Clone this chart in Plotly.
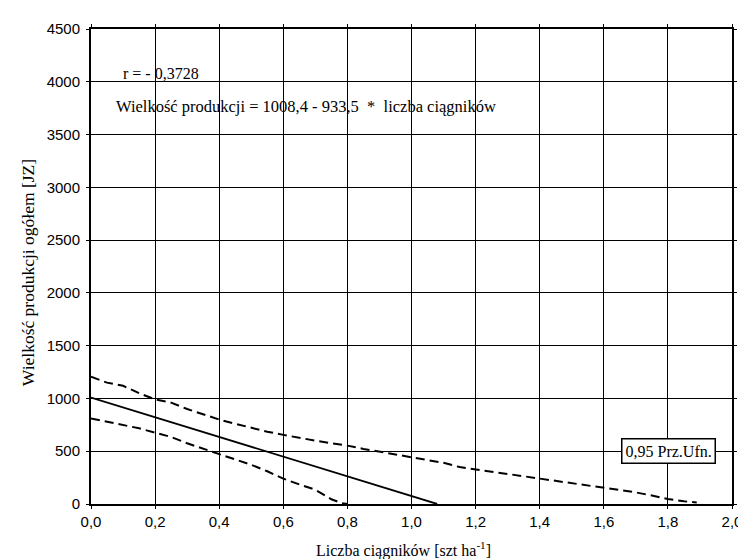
import plotly.graph_objects as go

# ---- data ----
x_ticks = [0.0, 0.2, 0.4, 0.6, 0.8, 1.0, 1.2, 1.4, 1.6, 1.8, 2.0]
x_tick_labels = ["0,0", "0,2", "0,4", "0,6", "0,8", "1,0", "1,2", "1,4", "1,6", "1,8", "2,0"]
y_ticks = [0, 500, 1000, 1500, 2000, 2500, 3000, 3500, 4000, 4500]
y_tick_labels = ["0", "500", "1000", "1500", "2000", "2500", "3000", "3500", "4000", "4500"]

intercept = 1008.4
slope = -933.5
reg_x = [0.0, 1.08]

upper_x = [0.0, 0.05, 0.1, 0.15, 0.2, 0.25, 0.3, 0.35, 0.4, 0.45, 0.5, 0.55, 0.6, 0.65, 0.7,
           0.75, 0.8, 0.85, 0.9, 0.95, 1.0, 1.05, 1.1, 1.15, 1.2, 1.25, 1.3, 1.35, 1.4, 1.45,
           1.5, 1.55, 1.6, 1.65, 1.7, 1.75, 1.8, 1.85, 1.89]
upper_y = [1205, 1150, 1120, 1050, 990, 960, 900, 850, 800, 760, 720, 685, 655, 625, 600,
           575, 553, 522, 495, 468, 443, 410, 390, 350, 328, 305, 285, 262, 242, 218,
           195, 170, 150, 130, 110, 80, 47, 25, 15]

lower_x = [0.0, 0.05, 0.1, 0.15, 0.2, 0.25, 0.3, 0.35, 0.4, 0.45, 0.5, 0.55, 0.6, 0.65, 0.7,
           0.75, 0.78, 0.8]
lower_y = [811, 780, 748, 717, 675, 635, 575, 525, 472, 420, 371, 310, 240, 185, 135,
           45, 10, 0]

r_text = "r = - 0,3728"
eq_text = "Wielkość produkcji = 1008,4 - 933,5\u00a0 *\u00a0 liczba ciągników"
box_text = "0,95 Prz.Ufn."
x_title = "Liczba ciągników [szt ha<sup>-1</sup>]"
y_title = "Wielkość produkcji ogółem [JZ]"

reg_y = [intercept + slope * v for v in reg_x]

fig = go.Figure()
fig.add_trace(go.Scatter(x=reg_x, y=reg_y, mode="lines",
                         line=dict(color="black", width=1.8), showlegend=False))
fig.add_trace(go.Scatter(x=upper_x, y=upper_y, mode="lines",
                         line=dict(color="black", width=2, dash="9px,5px"), showlegend=False))
fig.add_trace(go.Scatter(x=lower_x, y=lower_y, mode="lines",
                         line=dict(color="black", width=2, dash="9px,5px"), showlegend=False))

serif = "Liberation Serif, Times New Roman, serif"
sans = "Liberation Sans, Arial, sans-serif"

axis_common = dict(showgrid=True, gridcolor="black", gridwidth=1, zeroline=False,
                   showline=True, linecolor="black", linewidth=2, mirror="ticks",
                   ticks="outside", ticklen=3, tickwidth=1, tickcolor="black",
                   tickfont=dict(family=sans, size=15, color="black"))

fig.update_layout(
    width=746, height=559,
    margin=dict(l=83, r=12, t=19, b=63),
    paper_bgcolor="white", plot_bgcolor="white",
    xaxis=dict(range=[0, 2.0], tickvals=x_ticks, ticktext=x_tick_labels, **axis_common),
    yaxis=dict(range=[0, 4500], tickvals=y_ticks, ticktext=y_tick_labels,
               ticklabelstandoff=3, **axis_common),
    annotations=[
        dict(x=0.094, y=4075, xref="x", yref="y", text=r_text, showarrow=False,
             xanchor="left", yanchor="middle",
             font=dict(family=serif, size=16, color="black")),
        dict(x=0.073, y=3764, xref="x", yref="y", text=eq_text,
             showarrow=False, xanchor="left", yanchor="middle",
             font=dict(family=serif, size=16.5, color="black")),
        dict(x=1.803, y=505, xref="x", yref="y", text=box_text, showarrow=False,
             xanchor="center", yanchor="middle",
             bordercolor="black", borderwidth=1.5, borderpad=3, bgcolor="white",
             font=dict(family=serif, size=16, color="black")),
        dict(x=0.487, y=0, xref="paper", yref="paper", text=x_title, showarrow=False,
             xanchor="center", yanchor="middle", yshift=-45,
             font=dict(family=serif, size=16, color="black")),
        dict(x=0, y=0.486, xref="paper", yref="paper", text=y_title, showarrow=False,
             xanchor="center", yanchor="middle", xshift=-63, textangle=-90,
             font=dict(family=serif, size=17.5, color="black")),
    ],
)

fig.write_html("out.html")
